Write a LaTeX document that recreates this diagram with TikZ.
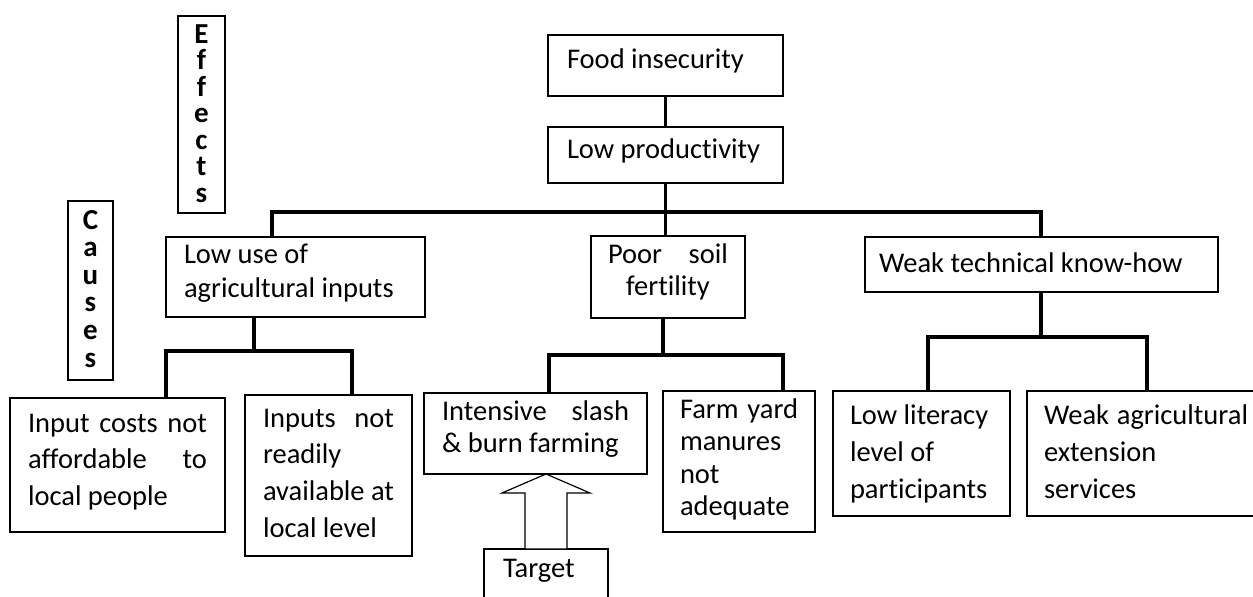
\documentclass[tikz,border=0pt]{standalone}
\usepackage{fontspec}
\setmainfont{Carlito}[Ligatures=NoCommon]
\newcommand{\bt}[5]{\parbox[t][#2pt][t]{#1pt}{\fontsize{28.5pt}{#4pt}\selectfont\rule{0pt}{#3pt}#5}}
\newcommand{\js}[1]{\makebox[\linewidth][s]{#1}}
\newcommand{\vtxt}[5]{\parbox[t][#1pt][t]{#2pt}{\centering\fontsize{29pt}{#4pt}\selectfont\bfseries\rule{0pt}{#3pt}#5}}
\begin{document}
\begin{tikzpicture}[x=1pt,y=-1pt,
  box/.style={draw, line width=1.4pt, rectangle, anchor=north west, inner ysep=0pt, outer sep=0pt},
  conn/.style={line width=3.5pt, line join=miter},
  hollow/.style={draw, line width=1.2pt, line join=miter, fill=white}]
\clip (0,0) rectangle (1253,597);
\fill[white] (0,0) rectangle (1253,597);

% coordinates of the connector bars
\coordinate (b1L) at (272,212);
\coordinate (b1R) at (1041,212);
\coordinate (b2M) at (254,351);
\coordinate (b2L) at (166,351);
\coordinate (b2R) at (352,351);
\coordinate (b3M) at (663,355);
\coordinate (b3L) at (549,355);
\coordinate (b3R) at (783,355);
\coordinate (b4M) at (1041,337);
\coordinate (b4L) at (928,337);
\coordinate (b4R) at (1147,337);

% nodes
\node[box, inner xsep=0pt] (effects) at (178,16) {\vtxt{197}{47}{27}{26.5}{E\\f\\f\\e\\c\\t\\s}};
\node[box, inner xsep=0pt] (causes) at (68,201) {\vtxt{179}{45}{28}{27.6}{C\\a\\u\\s\\e\\s}};

\node[box, inner xsep=19pt] (food) at (548,35) {\bt{197}{61}{33}{32}{Food insecurity}};
\node[box, inner xsep=19pt] (lowprod) at (548,127) {\bt{197}{56}{31}{32}{Low productivity}};

\node[box, inner xsep=18pt] (lowuse) at (166,237) {\bt{223}{80}{26}{34}{Low use of\\agricultural inputs}};
\node[box, inner xsep=17pt] (poor) at (591,236) {\bt{120}{82}{27}{32}{\js{Poor soil}\\\makebox[\linewidth][c]{fertility}}};
\node[box, inner xsep=14pt] (weaktech) at (865,237) {\bt{325}{55}{35}{32}{Weak technical know-how}};

\node[box, inner xsep=18pt] (costs) at (10,398) {\bt{179}{134}{34}{36.5}{\js{Input costs not}\\\js{affordable to}\\local people}};
\node[box, inner xsep=18pt] (avail) at (245,395) {\bt{131}{161}{32}{36.7}{\js{Inputs not}\\readily\\\js{available at}\\local level}};
\node[box, inner xsep=18pt] (slash) at (424,393) {\bt{187}{81}{27}{32}{\js{Intensive slash}\\\& burn farming}};
\node[box, inner xsep=17pt] (manure) at (663,391) {\bt{118}{141}{27}{32.5}{\js{Farm yard}\\manures\\not\\adequate}};
\node[box, inner xsep=17pt] (literacy) at (833,391) {\bt{143}{125}{33}{37}{Low literacy\\level of\\participants}};
\node[box, inner xsep=17pt] (extension) at (1027,391) {\bt{204}{125}{33}{37}{\js{Weak agricultural}\\extension\\services}};
\node[box, inner xsep=19pt] (target) at (484,549) {\bt{86}{60}{28}{32}{Target}};

% connectors
\draw[conn] (food.south) -- (lowprod.north);
\draw[conn] (lowprod.south) -- (lowprod.south |- poor.north);
\draw[conn] (lowuse.north -| b1L) -- (b1L) -- (b1R) -- (weaktech.north -| b1R);

\draw[conn] (lowuse.south -| b2M) -- (b2M);
\draw[conn] (costs.north -| b2L) -- (b2L) -- (b2R) -- (avail.north -| b2R);

\draw[conn] (poor.south -| b3M) -- (b3M);
\draw[conn] (slash.north -| b3L) -- (b3L) -- (b3R) -- (manure.north -| b3R);

\draw[conn] (weaktech.south -| b4M) -- (b4M);
\draw[conn] (literacy.north -| b4L) -- (b4L) -- (b4R) -- (extension.north -| b4R);

% hollow block arrow from Target to the slash & burn box
\draw[hollow] (target.north |- slash.south) -- ++(44,19) -- ++(-23,0) -- ++(0,56)
  -- ++(-42,0) -- ++(0,-56) -- ++(-23,0) -- cycle;
\end{tikzpicture}
\end{document}
